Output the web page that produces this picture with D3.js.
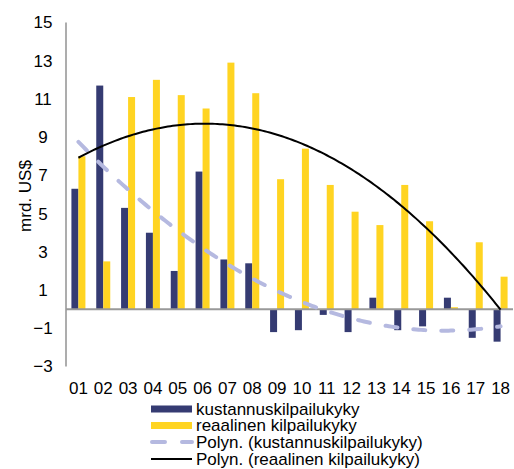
<!DOCTYPE html>
<html>
<head>
<meta charset="utf-8">
<script src="https://cdn.jsdelivr.net/npm/d3@7"></script>
<style>
  html, body { margin: 0; padding: 0; background: #fff; }
  svg { display: block; font-family: "Liberation Sans", Arial, sans-serif; }
</style>
</head>
<body>
<svg id="chart" width="514" height="469"></svg>
<script>
// Years 2001–2018, billions of US dollars
const years = ["01","02","03","04","05","06","07","08","09","10","11","12","13","14","15","16","17","18"];
const kustannus = [6.3, 11.7, 5.3, 4.0, 2.0, 7.2, 2.6, 2.4, -1.2, -1.1, -0.3, -1.2, 0.6, -1.1, -0.9, 0.6, -1.5, -1.7];
const reaalinen = [8.0, 2.5, 11.1, 12.0, 11.2, 10.5, 12.9, 11.3, 6.8, 8.4, 6.5, 5.1, 4.4, 6.5, 4.6, 0.1, 3.5, 1.7];
const yTicks = [-3, -1, 1, 3, 5, 7, 9, 11, 13, 15];
const legendLabels = [
  "kustannuskilpailukyky",
  "reaalinen kilpailukyky",
  "Polyn. (kustannuskilpailukyky)",
  "Polyn. (reaalinen kilpailukyky)"
];

const NAVY = "#353b72", YELLOW = "#ffd422", LAVENDER = "#b5b9e0", AXIS = "#999999";
const FONT = "Liberation Sans, Arial, sans-serif";

const svg = d3.select("#chart");
const x = d3.scaleBand().domain(years).range([66, 513]).padding(0);
const y = d3.scaleLinear().domain([-3, 15]).range([366.5, 22.5]);
const barW = 7;
const cx = i => x(years[i]) + x.bandwidth() / 2;

// Bars
const bars = svg.append("g");
bars.selectAll("rect.k").data(kustannus).join("rect")
  .attr("x", (d, i) => cx(i) - barW).attr("width", barW)
  .attr("y", d => y(Math.max(0, d))).attr("height", d => Math.abs(y(d) - y(0)))
  .attr("fill", NAVY);
bars.selectAll("rect.r").data(reaalinen).join("rect")
  .attr("x", (d, i) => cx(i)).attr("width", barW)
  .attr("y", d => y(Math.max(0, d))).attr("height", d => Math.abs(y(d) - y(0)))
  .attr("fill", YELLOW);

// Axes
svg.append("line").attr("x1", 66).attr("x2", 66).attr("y1", y(15)).attr("y2", y(-3))
  .attr("stroke", AXIS).attr("stroke-width", 1.6);
svg.append("line").attr("x1", 66).attr("x2", 513).attr("y1", y(0)).attr("y2", y(0))
  .attr("stroke", AXIS).attr("stroke-width", 2);

// Value labels are centred in a column left of the axis
const yAxis = d3.axisLeft(y).tickValues(yTicks).tickSize(0).tickPadding(0).tickFormat(d3.format("d"));
const gy = svg.append("g").attr("transform", "translate(43,0)").call(yAxis);
gy.select(".domain").remove();
gy.selectAll("text").attr("font-size", 17).attr("fill", "#000").attr("font-family", FONT)
  .attr("text-anchor", "middle");

const xAxis = d3.axisBottom(x).tickSize(0).tickPadding(0);
const gx = svg.append("g").attr("transform", "translate(0,382)").call(xAxis);
gx.select(".domain").remove();
gx.selectAll("text").attr("font-size", 17).attr("fill", "#000").attr("font-family", FONT);

svg.append("text").attr("transform", "translate(31,196) rotate(-90)")
  .attr("text-anchor", "middle").attr("font-size", 17).text("mrd. US$");

// Second-order least-squares trend lines
function quadFit(vals) {
  let s = [0, 0, 0, 0, 0], t = [0, 0, 0];
  vals.forEach((v, i) => {
    const xi = i + 1;
    for (let k = 0; k < 5; k++) s[k] += Math.pow(xi, k);
    for (let k = 0; k < 3; k++) t[k] += v * Math.pow(xi, k);
  });
  const A = [[s[0], s[1], s[2], t[0]], [s[1], s[2], s[3], t[1]], [s[2], s[3], s[4], t[2]]];
  for (let c = 0; c < 3; c++) {
    for (let r = c + 1; r < 3; r++) {
      const f = A[r][c] / A[c][c];
      for (let k = c; k < 4; k++) A[r][k] -= f * A[c][k];
    }
  }
  const b = [0, 0, 0];
  for (let r = 2; r >= 0; r--) {
    let sum = A[r][3];
    for (let k = r + 1; k < 3; k++) sum -= A[r][k] * b[k];
    b[r] = sum / A[r][r];
  }
  return xv => b[0] + b[1] * xv + b[2] * xv * xv;
}
const step = x.step();
const xPos = xv => cx(0) + (xv - 1) * step;
const samples = d3.range(1, 18.0001, 0.1);
const line = f => d3.line().x(v => xPos(v)).y(v => y(f(v)))(samples);

svg.append("path").attr("d", line(quadFit(kustannus)))
  .attr("fill", "none").attr("stroke", LAVENDER).attr("stroke-width", 4)
  .attr("stroke-linecap", "round").attr("stroke-dasharray", "12,16");
svg.append("path").attr("d", line(quadFit(reaalinen)))
  .attr("fill", "none").attr("stroke", "#000").attr("stroke-width", 2);

// Legend
const lg = svg.append("g");
const rows = [409, 425.5, 442, 459];
lg.append("rect").attr("x", 151).attr("y", rows[0] - 3.5).attr("width", 41).attr("height", 7).attr("fill", NAVY);
lg.append("rect").attr("x", 151).attr("y", rows[1] - 3.5).attr("width", 41).attr("height", 7).attr("fill", YELLOW);
lg.append("line").attr("x1", 152).attr("x2", 192).attr("y1", rows[2]).attr("y2", rows[2])
  .attr("stroke", LAVENDER).attr("stroke-width", 4).attr("stroke-linecap", "round").attr("stroke-dasharray", "13,17");
lg.append("line").attr("x1", 151).attr("x2", 192).attr("y1", rows[3]).attr("y2", rows[3])
  .attr("stroke", "#000").attr("stroke-width", 2);
lg.selectAll("text").data(legendLabels).join("text")
  .attr("x", 196).attr("y", (d, i) => rows[i]).attr("dy", "0.35em")
  .attr("font-size", 17).attr("font-family", FONT).text(d => d);
</script>
</body>
</html>
